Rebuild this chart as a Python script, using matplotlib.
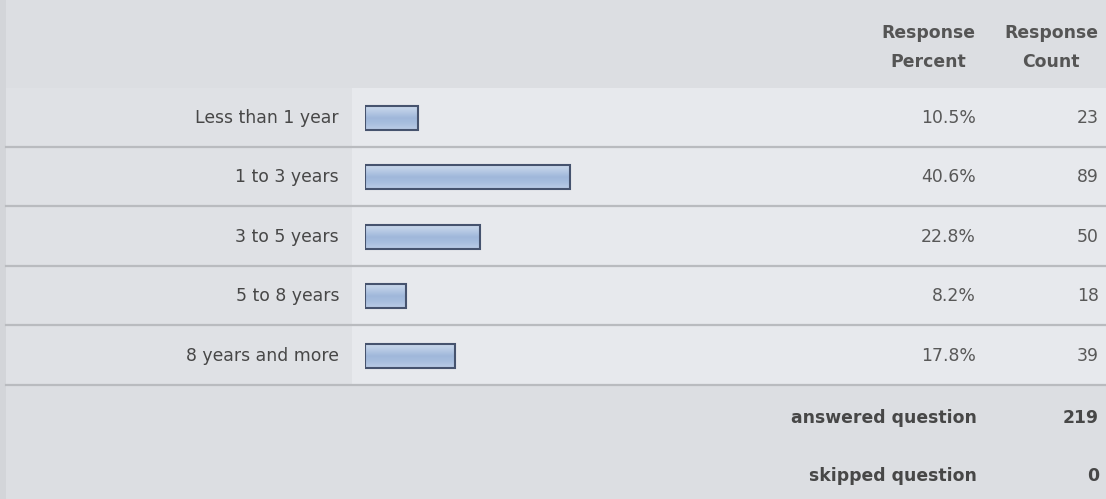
import matplotlib.pyplot as plt
import numpy as np
from matplotlib.colors import LinearSegmentedColormap
from matplotlib.patches import Rectangle

categories = ["Less than 1 year", "1 to 3 years", "3 to 5 years",
              "5 to 8 years", "8 years and more"]
percents = [10.5, 40.6, 22.8, 8.2, 17.8]
counts = [23, 89, 50, 18, 39]
answered = 219
skipped = 0

W, H = 1106, 499
plt.rcParams['font.family'] = ['DejaVu Sans']
FS = 12.4

fig = plt.figure(figsize=(W / 100, H / 100), dpi=100)
fig.patch.set_facecolor('#dcdee2')

# page layer in pixel coordinates
bg = fig.add_axes([0, 0, 1, 1])
bg.set_xlim(0, W)
bg.set_ylim(H, 0)
bg.axis('off')

row_top = 88
row_h = 59.5
n = len(categories)

# lighter cells behind the bars and values
bg.add_patch(Rectangle((352, row_top), W - 352, n * row_h,
                       facecolor='#e7e9ed', edgecolor='none'))
bg.add_patch(Rectangle((0, row_top), 352, n * row_h,
                       facecolor='#dfe1e5', edgecolor='none'))
bg.add_patch(Rectangle((0, 0), 6, H, facecolor='#d3d5d9', edgecolor='none'))

for i in range(n):
    y = row_top + row_h * (i + 1) - 1
    bg.plot([6, W], [y, y], color='#b9bbbf', lw=1.6)

# header
hdr = dict(ha='center', va='center', fontsize=FS, fontweight='bold', color='#555555')
bg.text(928, 33, "Response", **hdr)
bg.text(928, 62, "Percent", **hdr)
bg.text(1051, 33, "Response", **hdr)
bg.text(1051, 62, "Count", **hdr)

for i, (cat, p, c) in enumerate(zip(categories, percents, counts)):
    yc = row_top + row_h * i + row_h / 2
    bg.text(339, yc, cat, ha='right', va='center', fontsize=FS, color='#474747')
    bg.text(976, yc, f"{p:.1f}%", ha='right', va='center', fontsize=FS, color='#585858')
    bg.text(1099, yc, str(c), ha='right', va='center', fontsize=FS, color='#585858')

foot = dict(ha='right', va='center', fontsize=FS, fontweight='bold', color='#474747')
bg.text(977, 418, "answered question", **foot)
bg.text(1099, 418, str(answered), **foot)
bg.text(977, 476, "skipped question", **foot)
bg.text(1099, 476, str(skipped), **foot)

# bar axes: 0-100 percent mapped onto the bar column
x0, span = 365, 505
bx = fig.add_axes([x0 / W, 1 - (row_top + n * row_h) / H, span / W, n * row_h / H])
bx.set_xlim(0, 100)
bx.set_ylim(n - 0.5, -0.5)
bx.axis('off')
ypos = list(range(n))
bars = bx.barh(ypos, percents, height=0.4, color='none', edgecolor='#46536e', lw=1.5, zorder=3)

# soft vertical shading inside each bar
shade = LinearSegmentedColormap.from_list(
    'shade', ['#cbd9ec', '#b6c9e4', '#9fb7da', '#a9bfdf', '#bccde6'])
grad = np.linspace(0, 1, 64).reshape(-1, 1)
for b in bars:
    x, y = b.get_x(), b.get_y()
    w, h = b.get_width(), b.get_height()
    im = bx.imshow(grad, cmap=shade, aspect='auto', extent=[x, x + w, y, y + h],
                   origin='lower', zorder=2)
    im.set_clip_path(b)
bx.set_xlim(0, 100)
bx.set_ylim(n - 0.5, -0.5)

fig.savefig('out.png', dpi=100, facecolor=fig.get_facecolor())
